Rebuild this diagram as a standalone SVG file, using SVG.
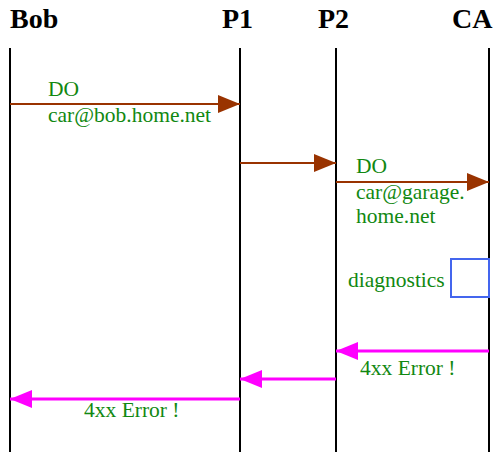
<svg xmlns="http://www.w3.org/2000/svg" width="494" height="452" viewBox="0 0 494 452">
<style>
.hdr{font-family:"Liberation Serif","Times New Roman",serif;font-weight:bold;font-size:28px;fill:#000}
.lbl{font-family:"Liberation Serif","Times New Roman",serif;font-size:21.5px;fill:#118811}
.life{stroke:#000;stroke-width:2}
.req{stroke:#993300;stroke-width:2;fill:none}
.err{stroke:#ff00ff;stroke-width:3;fill:none}
</style>
<defs>
<marker id="ah" markerUnits="userSpaceOnUse" markerWidth="22" markerHeight="18" refX="22" refY="9" orient="auto"><path d="M0,0 L22,9 L0,18 Z" fill="#993300"/></marker>
<marker id="am" markerUnits="userSpaceOnUse" markerWidth="22" markerHeight="18" refX="22" refY="9" orient="auto"><path d="M0,0 L22,9 L0,18 Z" fill="#ff00ff"/></marker>
</defs>
<rect width="494" height="452" fill="#fff"/>
<g id="bob"><text class="hdr" x="10" y="28">Bob</text><line class="life" x1="10" y1="48" x2="10" y2="452"/></g>
<g id="p1"><text class="hdr" x="222" y="28">P1</text><line class="life" x1="240" y1="48" x2="240" y2="452"/></g>
<g id="p2"><text class="hdr" x="318" y="28">P2</text><line class="life" x1="336" y1="48" x2="336" y2="452"/></g>
<g id="ca"><text class="hdr" x="452" y="28">CA</text><line class="life" x1="489" y1="48" x2="489" y2="452"/></g>
<g id="diag"><rect x="451" y="259" width="38" height="38" fill="none" stroke="#4466ee" stroke-width="2"/><text class="lbl" x="348" y="287">diagnostics</text></g>
<g id="connectors">
<line class="req" x1="10" y1="104" x2="240" y2="104" marker-end="url(#ah)"/>
<line class="req" x1="240" y1="163" x2="336" y2="163" marker-end="url(#ah)"/>
<line class="req" x1="336" y1="182" x2="489" y2="182" marker-end="url(#ah)"/>
<line class="err" x1="489" y1="351" x2="336" y2="351" marker-end="url(#am)"/>
<line class="err" x1="336" y1="379" x2="240" y2="379" marker-end="url(#am)"/>
<line class="err" x1="240" y1="399" x2="10" y2="399" marker-end="url(#am)"/>
</g>
<g id="labels">
<text class="lbl" x="48" y="96">DO</text>
<text class="lbl" x="48" y="122">car@bob.home.net</text>
<text class="lbl" x="356" y="173">DO</text>
<text class="lbl" x="356" y="199">car@garage.</text>
<text class="lbl" x="356" y="223">home.net</text>
<text class="lbl" x="360" y="375">4xx Error !</text>
<text class="lbl" x="84" y="417">4xx Error !</text>
</g>
</svg>
